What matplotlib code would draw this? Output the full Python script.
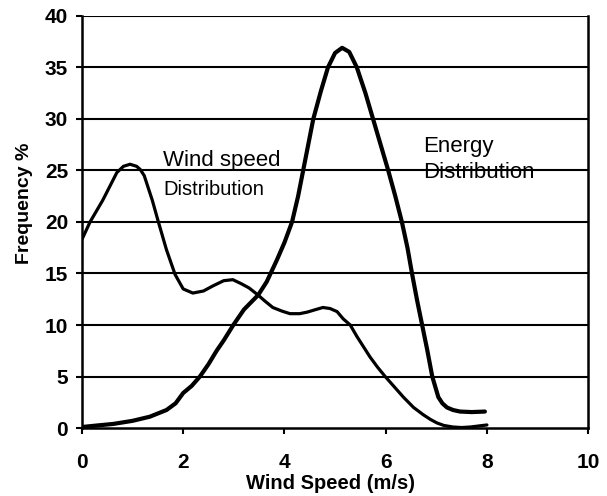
import matplotlib
matplotlib.use('Agg')
import matplotlib.pyplot as plt

plt.rcParams['font.family'] = ['Liberation Sans', 'DejaVu Sans']

# wind speed distribution
wind_x = [0, 0.16, 0.41, 0.69, 0.82, 0.95, 1.08, 1.15, 1.23, 1.39, 1.51, 1.67, 1.84,
          2.0, 2.19, 2.4, 2.59, 2.8, 2.98, 3.15, 3.3, 3.48, 3.62, 3.77, 3.95,
          4.11, 4.3, 4.45, 4.62, 4.76, 4.9, 5.04, 5.16, 5.3, 5.43, 5.56, 5.69,
          5.84, 5.99, 6.17, 6.35, 6.55, 6.74, 6.88, 7.01, 7.15, 7.33, 7.5,
          7.67, 8.0]
wind_y = [18.3, 20, 22.1, 24.8, 25.4, 25.6, 25.4, 25.1, 24.5, 22.1, 20, 17.3, 14.9,
          13.5, 13.1, 13.3, 13.8, 14.3, 14.4, 14.0, 13.6, 12.9, 12.3, 11.7, 11.35,
          11.1, 11.1, 11.25, 11.5, 11.7, 11.6, 11.3, 10.6, 10.0, 8.9, 7.9, 6.9,
          5.9, 5.0, 4.0, 3.0, 2.0, 1.3, 0.85, 0.5, 0.25, 0.1, 0.05,
          0.1, 0.3]

# energy distribution
energy_x = [0, 0.3, 0.62, 1.0, 1.34, 1.67, 1.85, 2.0, 2.17, 2.33, 2.5, 2.66,
            2.8, 2.99, 3.2, 3.48, 3.65, 3.85, 4.0, 4.15, 4.27, 4.37, 4.57, 4.72,
            4.86, 5.0, 5.14, 5.28, 5.43, 5.6, 5.75, 5.9, 6.05, 6.19, 6.32, 6.43,
            6.52, 6.62, 6.72, 6.82, 6.92, 7.04, 7.12, 7.21, 7.33, 7.47, 7.7, 7.96]
energy_y = [0.1, 0.25, 0.4, 0.7, 1.1, 1.75, 2.4, 3.4, 4.1, 5, 6.2, 7.5,
            8.5, 10, 11.5, 12.9, 14.2, 16.3, 18.0, 20, 22.5, 25, 30, 32.7,
            35, 36.4, 36.9, 36.5, 35, 32.5, 30, 27.5, 25, 22.5, 20, 17.5,
            15, 12.4, 10, 7.6, 5.0, 3.0, 2.4, 2.0, 1.75, 1.6, 1.55, 1.6]

x_ticks = [0, 2, 4, 6, 8, 10]
y_ticks = [0, 5, 10, 15, 20, 25, 30, 35, 40]

fig = plt.figure(figsize=(6.07, 4.96), dpi=100)
ax = fig.add_axes([0.135, 0.137, 0.834, 0.831])

for yt in y_ticks[1:]:
    ax.axhline(yt, color='black', lw=1.5, zorder=1)

ax.plot(wind_x, wind_y, color='black', lw=2.3, zorder=3,
        solid_joinstyle='round', solid_capstyle='round')
ax.plot(energy_x, energy_y, color='black', lw=3.0, zorder=3,
        solid_joinstyle='round', solid_capstyle='round')

ax.set_xlim(0, 10)
ax.set_ylim(0, 40)
ax.set_xticks(x_ticks)
ax.set_yticks(y_ticks)
ax.tick_params(axis='both', direction='out', length=4, width=1.5, labelsize=15)
ax.tick_params(axis='x', pad=14)
ax.tick_params(axis='y', pad=6)
for lab in ax.get_xticklabels() + ax.get_yticklabels():
    lab.set_fontweight('bold')

for side in ['left', 'bottom', 'right']:
    ax.spines[side].set_linewidth(1.8)
ax.spines['top'].set_visible(False)

ax.set_xlabel('Wind Speed (m/s)', fontsize=14.5, fontweight='bold')
ax.xaxis.set_label_coords(0.49, -0.112)
ax.set_ylabel('Frequency %', fontsize=14, fontweight='bold')
ax.yaxis.set_label_coords(-0.097, 0.546)

ax.text(1.6, 24.9, 'Wind speed', fontsize=16, va='bottom', ha='left', zorder=4)
ax.text(1.6, 22.2, 'Distribution', fontsize=14.5, va='bottom', ha='left', zorder=4)
ax.text(6.74, 26.8, 'Energy', fontsize=16, va='baseline', ha='left', zorder=4)
ax.text(6.74, 24.3, 'Distribution', fontsize=16, va='baseline', ha='left', zorder=4)

fig.savefig('out.png', dpi=100)
